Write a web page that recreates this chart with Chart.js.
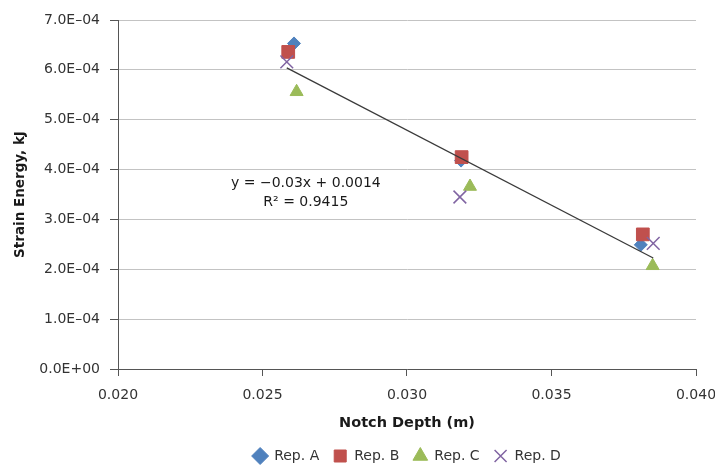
<!DOCTYPE html>
<html>
<head>
<meta charset="utf-8">
<script src="https://cdn.jsdelivr.net/npm/chart.js@4"></script>
<style>
    html, body { margin: 0; padding: 0; background: #fff; }
    #wrap { width: 715px; height: 466px; }
</style>
</head>
<body>
<div id="wrap"><canvas id="strainChart" width="715" height="466"></canvas></div>
<script>
// notch depth (m) for each replicate
const depthA = [0.02609, 0.03187, 0.03809];
const depthB = [0.02589, 0.03189, 0.03816];
const depthC = [0.02618, 0.03218, 0.03850];
const depthD = [0.02584, 0.03183, 0.03852];

// strain energy (kJ)
const energyA = [6.53e-4, 4.18e-4, 2.49e-4];
const energyB = [6.36e-4, 4.25e-4, 2.70e-4];
const energyC = [5.56e-4, 3.66e-4, 2.07e-4];
const energyD = [6.16e-4, 3.45e-4, 2.52e-4];

const seriesNames = ['Rep. A', 'Rep. B', 'Rep. C', 'Rep. D'];
const equationText = ['y = \u22120.03x + 0.0014', 'R\u00b2 = 0.9415'];

function toPoints(xs, ys) {
    return xs.map((x, i) => ({ x: x, y: ys[i] }));
}

// least squares line through all replicates
function trendLine() {
    const xs = depthA.concat(depthB, depthC, depthD);
    const ys = energyA.concat(energyB, energyC, energyD);
    const n = xs.length;
    const mx = xs.reduce((a, b) => a + b, 0) / n;
    const my = ys.reduce((a, b) => a + b, 0) / n;
    let sxy = 0, sxx = 0;
    for (let i = 0; i < n; i++) {
        sxy += (xs[i] - mx) * (ys[i] - my);
        sxx += (xs[i] - mx) * (xs[i] - mx);
    }
    const slope = sxy / sxx;
    const icpt = my - slope * mx;
    const x0 = Math.min(...xs), x1 = Math.max(...xs);
    return [{ x: x0, y: icpt + slope * x0 }, { x: x1, y: icpt + slope * x1 }];
}

function sciLabel(v) {
    const parts = Number(v).toExponential(1).split('e');
    const e = parseInt(parts[1], 10);
    const sign = e < 0 ? '\u2013' : '+';
    return parts[0] + 'E' + sign + String(Math.abs(e)).padStart(2, '0');
}

const equationPlugin = {
    id: 'equation',
    afterDatasetsDraw(chart) {
        const ctx = chart.ctx;
        const xs = chart.scales.x, ys = chart.scales.y;
        const cx = xs.getPixelForValue(0.02650);
        ctx.save();
        ctx.font = '14px "DejaVu Sans"';
        ctx.fillStyle = '#1a1a1a';
        ctx.textAlign = 'center';
        ctx.textBaseline = 'middle';
        ctx.fillText(equationText[0], cx, ys.getPixelForValue(3.72e-4));
        ctx.fillText(equationText[1], cx, ys.getPixelForValue(3.34e-4));
        ctx.restore();
    }
};

function renderStrainChart() {
    const ctx = document.getElementById('strainChart').getContext('2d');
    new Chart(ctx, {
        type: 'scatter',
        data: {
            datasets: [{
                label: seriesNames[0],
                data: toPoints(depthA, energyA),
                pointStyle: 'rectRot',
                pointRadius: 6.5,
                backgroundColor: '#4F81BD',
                borderColor: '#4F81BD',
                borderWidth: 1,
                order: 5
            }, {
                label: seriesNames[1],
                data: toPoints(depthB, energyB),
                pointStyle: 'rect',
                pointRadius: 9,
                backgroundColor: '#C0504D',
                borderColor: '#C0504D',
                borderWidth: 1,
                order: 4
            }, {
                label: seriesNames[2],
                data: toPoints(depthC, energyC),
                pointStyle: 'triangle',
                pointRadius: 7.5,
                backgroundColor: '#9BBB59',
                borderColor: '#9BBB59',
                borderWidth: 1,
                order: 3
            }, {
                label: seriesNames[3],
                data: toPoints(depthD, energyD),
                pointStyle: 'crossRot',
                pointRadius: 9,
                backgroundColor: '#8064A2',
                borderColor: '#8064A2',
                borderWidth: 1.5,
                order: 2
            }, {
                label: 'trend',
                data: trendLine(),
                showLine: true,
                pointRadius: 0,
                borderColor: '#3a3a3a',
                borderWidth: 1.3,
                order: 1
            }]
        },
        options: {
            responsive: false,
            animation: false,
            events: [],
            layout: { padding: { top: 20, right: 19, left: 0, bottom: -7 } },
            plugins: {
                tooltip: { enabled: false },
                legend: {
                    position: 'bottom',
                    fullSize: false,
                    labels: {
                        usePointStyle: true,
                        boxWidth: 14,
                        boxHeight: 12,
                        padding: 14,
                        color: '#333',
                        font: { family: 'DejaVu Sans', size: 14 },
                        filter: item => item.text !== 'trend',
                        sort: (a, b) => a.datasetIndex - b.datasetIndex
                    }
                }
            },
            scales: {
                x: {
                    type: 'linear',
                    min: 0.02,
                    max: 0.04,
                    ticks: {
                        stepSize: 0.005,
                        padding: 11,
                        color: '#333',
                        font: { family: 'DejaVu Sans', size: 14 },
                        callback: v => Number(v).toFixed(3)
                    },
                    grid: { drawOnChartArea: false, drawTicks: true, tickLength: 7, tickColor: '#555' },
                    border: { display: true, color: '#555', width: 1 },
                    title: {
                        display: true,
                        text: 'Notch Depth (m)',
                        color: '#1a1a1a',
                        font: { family: 'DejaVu Sans', size: 14.5, weight: 'bold' },
                        padding: { top: 0, bottom: 3 }
                    },
                    afterFit: scale => {
                        scale.height = 66;
                        scale.paddingLeft = 0;
                        scale.paddingRight = 0;
                    }
                },
                y: {
                    min: 0,
                    max: 0.0007,
                    ticks: {
                        stepSize: 0.0001,
                        padding: 10,
                        color: '#333',
                        font: { family: 'DejaVu Sans', size: 14 },
                        callback: v => sciLabel(v)
                    },
                    grid: { color: '#c3c3c3', tickColor: '#555', tickLength: 8 },
                    border: { display: true, color: '#555', width: 1 },
                    title: {
                        display: true,
                        text: 'Strain Energy, kJ',
                        color: '#1a1a1a',
                        font: { family: 'DejaVu Sans', size: 13.5, weight: 'bold' },
                        padding: { top: 12, bottom: 0 }
                    },
                    afterFit: scale => { scale.width = 118; }
                }
            }
        },
        plugins: [equationPlugin]
    });
}

document.addEventListener('DOMContentLoaded', () => {
    renderStrainChart();
});
</script>
</body>
</html>
